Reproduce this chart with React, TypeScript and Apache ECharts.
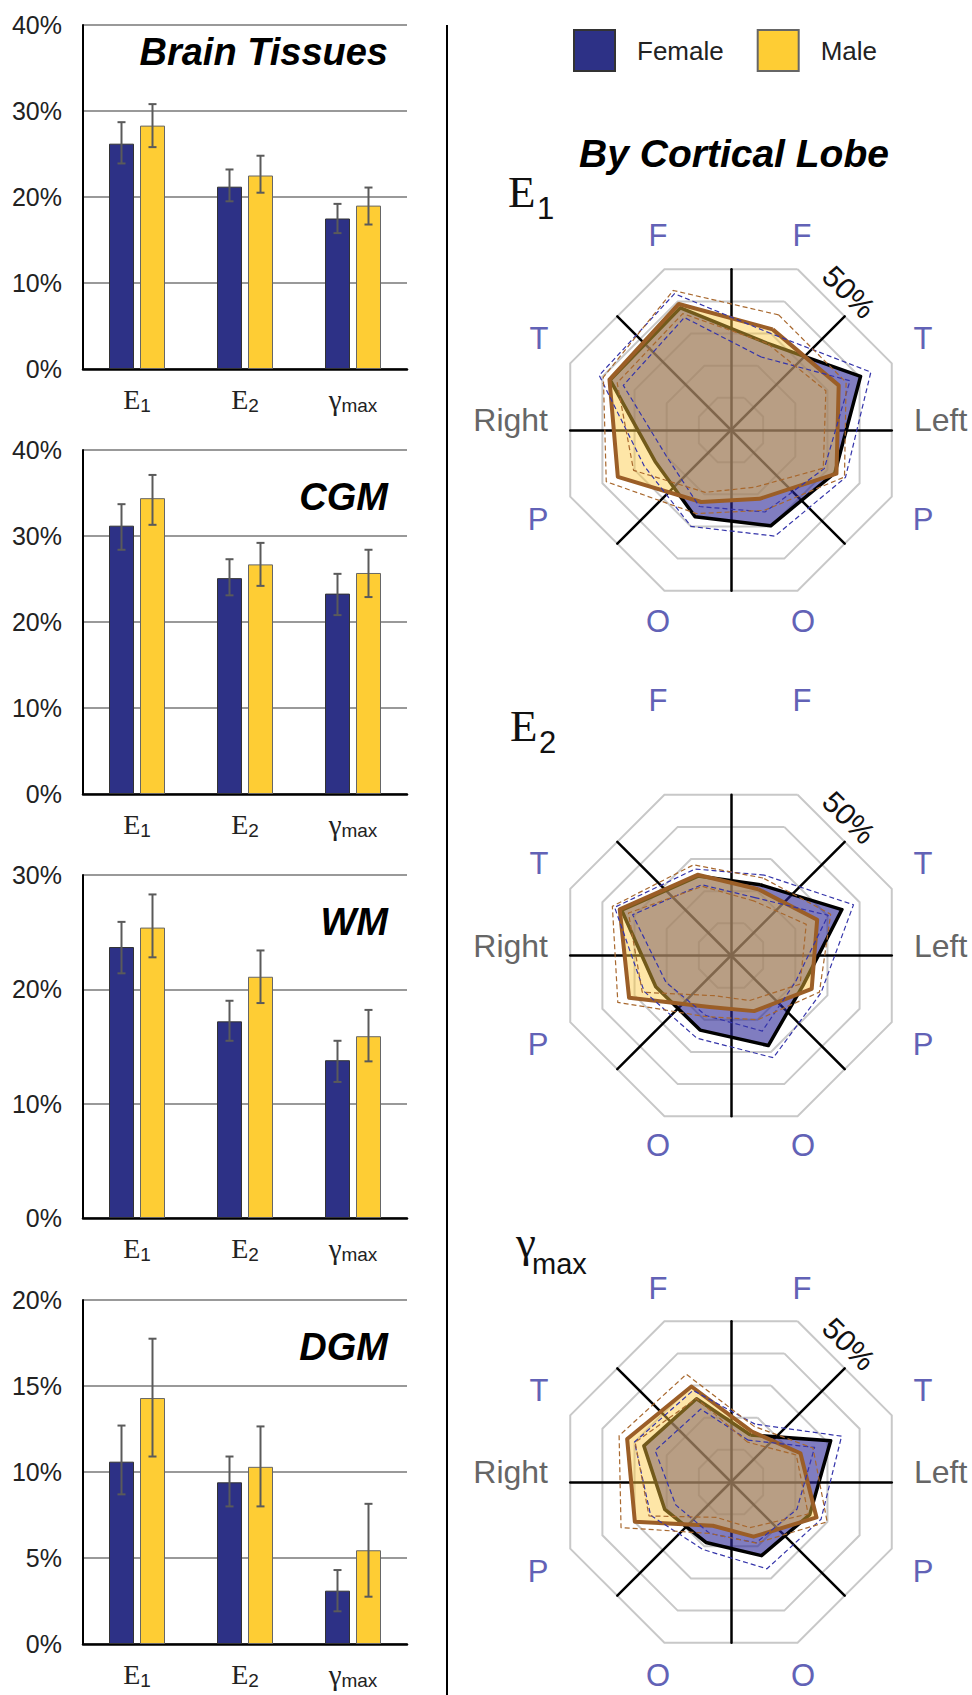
import React, { useEffect, useRef } from 'react';
import * as echarts from 'echarts';

// ---------- bar panels ----------
const barCategories = ['E1', 'E2', 'γmax'];
const panelTitles = ['Brain Tissues', 'CGM', 'WM', 'DGM'];
const panelMax = [40, 40, 30, 20];
const panelInterval = [10, 10, 10, 5];

// Brain tissues
const tissueFemale = [26.2, 21.2, 17.5];
const tissueFemaleLo = [23.9, 19.5, 15.8];
const tissueFemaleHi = [28.7, 23.2, 19.2];
const tissueMale = [28.3, 22.5, 19.0];
const tissueMaleLo = [25.8, 20.5, 16.8];
const tissueMaleHi = [30.8, 24.8, 21.1];
// CGM
const cgmFemale = [31.2, 25.1, 23.3];
const cgmFemaleLo = [28.4, 23.1, 20.8];
const cgmFemaleHi = [33.7, 27.3, 25.6];
const cgmMale = [34.4, 26.7, 25.7];
const cgmMaleLo = [31.3, 24.2, 22.9];
const cgmMaleHi = [37.1, 29.2, 28.4];
// WM
const wmFemale = [23.7, 17.2, 13.8];
const wmFemaleLo = [21.4, 15.5, 11.9];
const wmFemaleHi = [25.9, 19.0, 15.5];
const wmMale = [25.4, 21.1, 15.9];
const wmMaleLo = [22.8, 18.8, 13.7];
const wmMaleHi = [28.3, 23.4, 18.2];
// DGM
const dgmFemale = [10.6, 9.4, 3.1];
const dgmFemaleLo = [8.7, 8.0, 1.9];
const dgmFemaleHi = [12.7, 10.9, 4.3];
const dgmMale = [14.3, 10.3, 5.45];
const dgmMaleLo = [10.9, 8.0, 2.75];
const dgmMaleHi = [17.75, 12.65, 8.15];

const panels = [
  [tissueFemale, tissueFemaleLo, tissueFemaleHi, tissueMale, tissueMaleLo, tissueMaleHi],
  [cgmFemale, cgmFemaleLo, cgmFemaleHi, cgmMale, cgmMaleLo, cgmMaleHi],
  [wmFemale, wmFemaleLo, wmFemaleHi, wmMale, wmMaleLo, wmMaleHi],
  [dgmFemale, dgmFemaleLo, dgmFemaleHi, dgmMale, dgmMaleLo, dgmMaleHi],
];

// ---------- radar panels ----------
// indicator order (counter-clockwise from upper right):
// left-hemisphere F, right F, right T, right P, right O, left O, left P, left T
const lobeNames = ['F', 'F', 'T', 'P', 'O', 'O', 'P', 'T'];
const radarMax = 50;

const e1FemaleMean = [27, 38, 37.6, 23.6, 27, 29.8, 32.3, 40.3];
const e1FemaleUpper = [30, 42.4, 41, 27, 30, 33, 35.6, 43.5];
const e1FemaleLower = [22.7, 35, 33.5, 20, 23.8, 25.5, 29, 37];
const e1MaleMean = [31.3, 39.2, 37.8, 35.2, 22.4, 21.4, 32.8, 33.5];
const e1MaleUpper = [35.8, 43.4, 39.7, 38.8, 26, 25, 35.3, 35.8];
const e1MaleLower = [27, 36.2, 35.4, 30.3, 19.4, 17.8, 28.7, 29.5];

const e2FemaleMean = [22, 24.7, 34, 23.4, 23.2, 28, 22.4, 34.5];
const e2FemaleUpper = [25, 26.9, 36.2, 27, 25.7, 31.8, 28, 38.1];
const e2FemaleLower = [18, 22, 30.6, 20.2, 18.7, 23.5, 20, 30.2];
const e2MaleMean = [20.6, 25.1, 34.6, 31.7, 16, 17.3, 25.1, 26.8];
const e2MaleUpper = [24.1, 28.2, 36.9, 35.2, 19, 20, 27.5, 31];
const e2MaleLower = [17, 21.5, 31.9, 27.6, 12.5, 14, 21.5, 23.4];

const gFemaleMean = [14.6, 25.9, 27.1, 20.6, 18.8, 22.9, 24.5, 31];
const gFemaleUpper = [18, 28.5, 30, 25, 21, 27, 28, 34.4];
const gFemaleLower = [13, 22.7, 23.6, 17.2, 16, 18.9, 20.5, 26];
const gMaleMean = [15.7, 29.7, 32.3, 29.9, 13.6, 17, 26.6, 21.6];
const gMaleUpper = [17.3, 33.5, 34.8, 34.2, 16, 19, 29.9, 25.5];
const gMaleLower = [12.4, 26, 29.8, 25.5, 11, 14.2, 24, 20.3];

const radarSets = [
  [e1FemaleMean, e1FemaleUpper, e1FemaleLower, e1MaleMean, e1MaleUpper, e1MaleLower],
  [e2FemaleMean, e2FemaleUpper, e2FemaleLower, e2MaleMean, e2MaleUpper, e2MaleLower],
  [gFemaleMean, gFemaleUpper, gFemaleLower, gMaleMean, gMaleUpper, gMaleLower],
];
const radarMainLabels = ['E', 'E', 'γ'];
const radarSubLabels = ['1', '2', 'max'];

// ---------- layout / style ----------
const W = 972;
const H = 1695;
const SANS = '"Liberation Sans", Arial, Helvetica, sans-serif';
const SERIF = '"Liberation Serif", "Times New Roman", serif';
const FEMALE = '#2d3186';
const MALE = '#fecd34';
const gridTops = [25, 450, 875, 1300];
const gridHeights = [344, 344, 343, 344];
const radarCX = 731;
const radarCY = [430, 955.5, 1482];
const radarR = 174;
const fLabelDy = [-195, -255, -194];
const oLabelDy = [191, 190, 193];
// main-letter position and subscript position of each radar heading
const headMain = [[508, 192], [510, 726], [516, 1242]];
const headSub = [[537, 208], [539, 742], [532, 1264]];

function errRender(off: number) {
  return (params: any, api: any) => {
    const k = api.value(0);
    const pLo = api.coord([k, api.value(1)]);
    const pHi = api.coord([k, api.value(2)]);
    const x = pLo[0] + off;
    const st = { stroke: '#5a5a5a', lineWidth: 2 };
    return {
      type: 'group',
      children: [
        { type: 'line', shape: { x1: x, y1: pHi[1], x2: x, y2: pLo[1] }, style: st },
        { type: 'line', shape: { x1: x - 4, y1: pHi[1], x2: x + 4, y2: pHi[1] }, style: st },
        { type: 'line', shape: { x1: x - 4, y1: pLo[1], x2: x + 4, y2: pLo[1] }, style: st },
      ],
    };
  };
}

function buildOption() {
  const grid: any[] = [];
  const xAxis: any[] = [];
  const yAxis: any[] = [];
  const series: any[] = [];
  const graphic: any[] = [];

  panels.forEach((p, i) => {
    grid.push({ left: 83, width: 324, top: gridTops[i], height: gridHeights[i] });
    xAxis.push({
      type: 'category',
      gridIndex: i,
      data: barCategories,
      axisLine: { lineStyle: { color: '#000', width: 2.5 } },
      axisTick: { show: false },
      axisLabel: {
        interval: 0,
        margin: 16,
        formatter: (v: string) =>
          v === 'E1' ? '{e|E}{s|1}' : v === 'E2' ? '{e|E}{s|2}' : '{g|γ}{s|max}',
        rich: {
          e: { fontFamily: SERIF, fontSize: 28, color: '#222', lineHeight: 30, verticalAlign: 'top' },
          g: { fontFamily: SERIF, fontSize: 29, color: '#222', lineHeight: 30, verticalAlign: 'top' },
          s: {
            fontFamily: SANS, fontSize: 19, color: '#222', lineHeight: 20,
            padding: [20, 0, 0, 0], verticalAlign: 'bottom',
          },
        },
      },
    });
    yAxis.push({
      type: 'value',
      gridIndex: i,
      min: 0,
      max: panelMax[i],
      interval: panelInterval[i],
      axisLine: { show: true, lineStyle: { color: '#000', width: 2 } },
      axisTick: { show: false },
      splitLine: { lineStyle: { color: '#999', width: 2 } },
      axisLabel: {
        formatter: '{value}%',
        fontFamily: SANS,
        fontSize: 25,
        color: '#222',
        margin: 21,
        padding: [0, 0, 17, 0],
      },
    });
    const [fm, fl, fh, mm, ml, mh] = p;
    series.push({
      type: 'bar', name: 'Female', xAxisIndex: i, yAxisIndex: i, data: fm,
      barWidth: 25, barGap: '24%',
      itemStyle: { color: FEMALE, borderColor: '#333', borderWidth: 1 },
    });
    series.push({
      type: 'bar', name: 'Male', xAxisIndex: i, yAxisIndex: i, data: mm,
      barWidth: 25, barGap: '24%',
      itemStyle: { color: MALE, borderColor: '#666', borderWidth: 1 },
    });
    series.push({
      type: 'custom', name: 'errF' + i, xAxisIndex: i, yAxisIndex: i, z: 5,
      data: fl.map((l, k) => [k, l, fh[k]]),
      encode: { x: 0, y: [1, 2] },
      renderItem: errRender(-15.5),
    });
    series.push({
      type: 'custom', name: 'errM' + i, xAxisIndex: i, yAxisIndex: i, z: 5,
      data: ml.map((l, k) => [k, l, mh[k]]),
      encode: { x: 0, y: [1, 2] },
      renderItem: errRender(15.5),
    });
    graphic.push({
      type: 'text',
      x: 388,
      y: i === 0 ? 52 : gridTops[i] + 47,
      style: {
        text: panelTitles[i],
        font: 'italic bold 38px ' + SANS,
        fill: '#000',
        textAlign: 'right',
        textVerticalAlign: 'middle',
      },
    });
  });

  // radars
  const radar: any[] = [];
  radarSets.forEach((set, r) => {
    radar.push({
      center: [radarCX, radarCY[r]],
      radius: radarR,
      startAngle: 67.5,
      shape: 'polygon',
      splitNumber: 5,
      indicator: lobeNames.map((n) => ({ name: n, min: 0, max: radarMax })),
      axisName: { show: false },
      axisLine: { show: false },
      axisTick: { show: false },
      axisLabel: { show: false },
      splitLine: { lineStyle: { color: '#c8c8c8', width: 2 } },
      splitArea: { show: false },
    });
    radar.push({
      center: [radarCX, radarCY[r]],
      radius: radarR * Math.cos(Math.PI / 8),
      startAngle: 90,
      shape: 'polygon',
      splitNumber: 1,
      indicator: lobeNames.map(() => ({ name: '', min: 0, max: 1 })),
      axisName: { show: false },
      axisLine: { lineStyle: { color: '#000', width: 2.5 } },
      axisTick: { show: false },
      axisLabel: { show: false },
      splitLine: { show: false },
      splitArea: { show: false },
    });
    const [fm, fu, fl, mm, mu, ml] = set;
    const ri = r * 2;
    const base = { type: 'radar', radarIndex: ri, symbol: 'none', silent: true };
    // female: fill, then outline
    series.push({
      ...base, name: 'rFa' + r, data: [{ value: fm }],
      lineStyle: { width: 0, opacity: 0 },
      areaStyle: { color: 'rgba(43,38,150,0.6)', opacity: 1 },
    });
    series.push({
      ...base, name: 'rFl' + r, data: [{ value: fm }],
      lineStyle: { color: '#000', width: 3.5, opacity: 1 },
    });
    // male: fill, then outline
    series.push({
      ...base, name: 'rMa' + r, data: [{ value: mm }],
      lineStyle: { width: 0, opacity: 0 },
      areaStyle: { color: 'rgba(252,200,60,0.45)', opacity: 1 },
    });
    series.push({
      ...base, name: 'rMl' + r, data: [{ value: mm }],
      lineStyle: { color: '#9b5e27', width: 4, opacity: 1 },
    });
    [fu, fl].forEach((d, k) =>
      series.push({
        ...base, name: 'rFb' + r + k, data: [{ value: d }],
        lineStyle: { color: '#3434aa', width: 1.2, type: [5, 3] },
      })
    );
    [mu, ml].forEach((d, k) =>
      series.push({
        ...base, name: 'rMb' + r + k, data: [{ value: d }],
        lineStyle: { color: '#a8682e', width: 1.2, type: [5, 3] },
      })
    );

    // labels around radar
    const cx = radarCX;
    const cy = radarCY[r];
    const lobeStyle = (t: string) => ({
      text: t, font: '31px ' + SANS, fill: '#6262b6', textAlign: 'center', textVerticalAlign: 'middle',
    });
    const lobePos: [string, number, number][] = [
      ['F', -73, fLabelDy[r]], ['F', 71, fLabelDy[r]],
      ['T', -192, -92], ['T', 192, -92],
      ['P', -193, 89], ['P', 192, 89],
      ['O', -73, oLabelDy[r]], ['O', 72, oLabelDy[r]],
    ];
    lobePos.forEach(([t, dx, dy]) =>
      graphic.push({ type: 'text', x: cx + dx, y: cy + dy, style: lobeStyle(t) })
    );
    graphic.push({
      type: 'text', x: cx - 183, y: cy - 10,
      style: { text: 'Right', font: '32px ' + SANS, fill: '#666', textAlign: 'right', textVerticalAlign: 'middle' },
    });
    graphic.push({
      type: 'text', x: cx + 183, y: cy - 10,
      style: { text: 'Left', font: '32px ' + SANS, fill: '#666', textAlign: 'left', textVerticalAlign: 'middle' },
    });
    graphic.push({
      type: 'text', x: cx + 118, y: cy - 138, rotation: -Math.PI / 4,
      style: { text: '50%', font: '30px ' + SANS, fill: '#111', textAlign: 'center', textVerticalAlign: 'middle' },
    });
    // radar heading (main letter + subscript)
    graphic.push({
      type: 'text', x: headMain[r][0], y: headMain[r][1],
      style: {
        text: radarMainLabels[r], font: '45px ' + SERIF, fill: '#111',
        textAlign: 'left', textVerticalAlign: 'middle',
      },
    });
    graphic.push({
      type: 'text', x: headSub[r][0], y: headSub[r][1],
      style: {
        text: radarSubLabels[r], font: (r === 2 ? '29px ' : '31px ') + SANS, fill: '#111',
        textAlign: 'left', textVerticalAlign: 'middle',
      },
    });
  });

  // headings and divider
  graphic.push({
    type: 'text', x: 734, y: 153,
    style: {
      text: 'By Cortical Lobe', font: 'italic bold 39px ' + SANS, fill: '#000',
      textAlign: 'center', textVerticalAlign: 'middle',
    },
  });
  graphic.push({
    type: 'line', shape: { x1: 447, y1: 25, x2: 447, y2: H }, style: { stroke: '#000', lineWidth: 2 },
  });

  return {
    animation: false,
    backgroundColor: '#fff',
    legend: {
      data: ['Female', 'Male'],
      left: 568,
      top: 24,
      icon: 'rect',
      itemWidth: 41,
      itemHeight: 41,
      itemGap: 33,
      selectedMode: false,
      textStyle: { fontFamily: SANS, fontSize: 26, color: '#222', padding: [0, 0, 0, 17] },
    },
    grid,
    xAxis,
    yAxis,
    radar,
    series,
    graphic,
  };
}

export default function App() {
  const ref = useRef<HTMLDivElement>(null);
  useEffect(() => {
    document.body.style.margin = '0';
    const chart = echarts.init(ref.current!, null, { renderer: 'svg' });
    chart.setOption(buildOption() as any);
    return () => chart.dispose();
  }, []);
  return <div ref={ref} style={{ width: W, height: H }} />;
}
